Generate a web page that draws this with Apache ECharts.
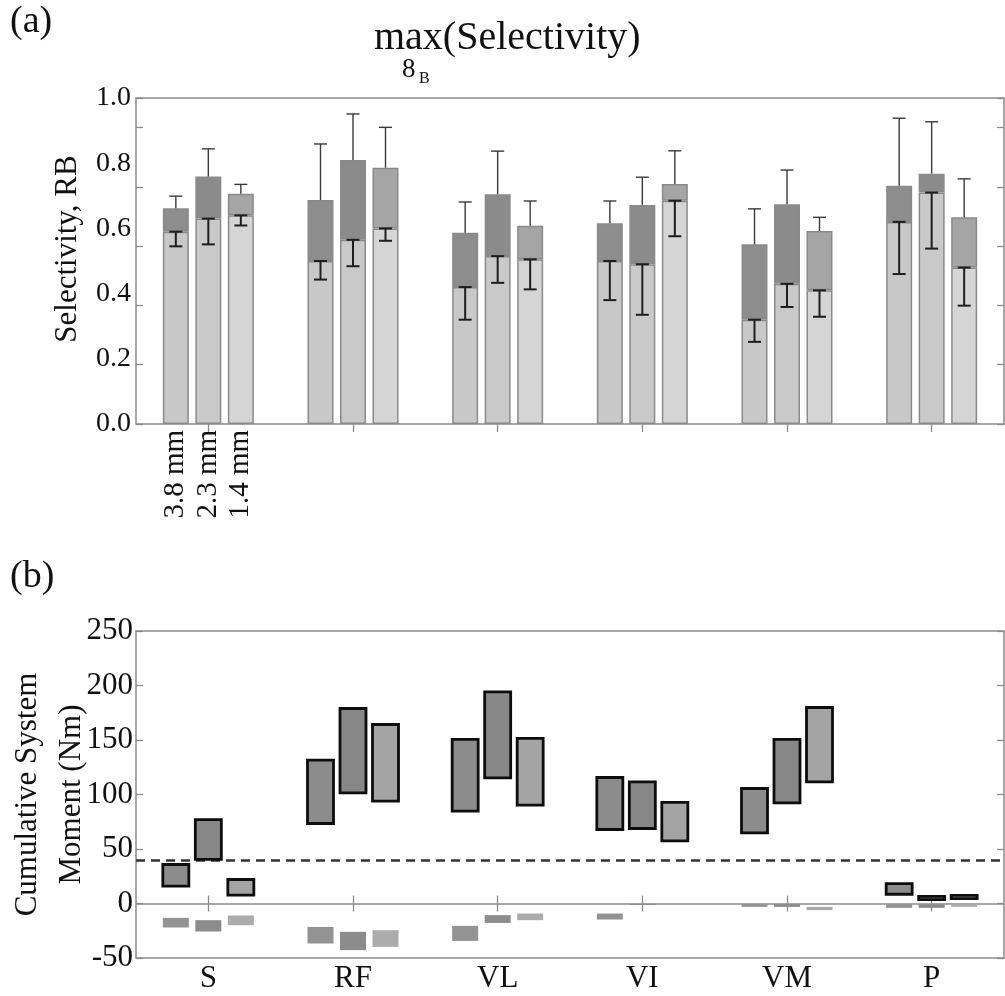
<!DOCTYPE html>
<html>
<head>
<meta charset="utf-8">
<script src="https://cdn.jsdelivr.net/npm/echarts@6/dist/echarts.min.js"></script>
<style>
  html, body { margin: 0; padding: 0; background: #fff; }
  #main { width: 1005px; height: 996px; }
</style>
</head>
<body>
<div id="main"></div>
<script>
// categories
var groups = ['S', 'RF', 'VL', 'VI', 'VM', 'P'];
var sizes = ['3.8 mm', '2.3 mm', '1.4 mm'];

// (a) selectivity: light part (lower) and total height (upper), with their sd
var low38 = [0.59, 0.50, 0.42, 0.50, 0.32, 0.62];
var low23 = [0.63, 0.565, 0.515, 0.49, 0.43, 0.71];
var low14 = [0.64, 0.60, 0.505, 0.685, 0.41, 0.48];
var lowSd38 = [0.045, 0.057, 0.10, 0.12, 0.068, 0.16];
var lowSd23 = [0.079, 0.081, 0.082, 0.155, 0.071, 0.172];
var lowSd14 = [0.031, 0.038, 0.092, 0.109, 0.081, 0.117];
var top38 = [0.662, 0.687, 0.587, 0.616, 0.551, 0.731];
var top23 = [0.759, 0.81, 0.705, 0.672, 0.674, 0.768];
var top14 = [0.706, 0.786, 0.608, 0.736, 0.592, 0.634];
var topSd38 = [0.037, 0.172, 0.094, 0.068, 0.109, 0.207];
var topSd23 = [0.085, 0.141, 0.132, 0.085, 0.105, 0.159];
var topSd14 = [0.029, 0.124, 0.076, 0.102, 0.042, 0.118];

// (b) moment ranges (Nm)
var boxLo38 = [15.9, 73.4, 84.7, 67.9, 64.8, 8.5];
var boxHi38 = [35.8, 131.5, 150.5, 115.6, 105.5, 18.3];
var boxLo23 = [40.4, 101.5, 115.2, 68.8, 92.3, 3.5];
var boxHi23 = [77, 178.9, 194.1, 111.6, 150.5, 6.5];
var boxLo14 = [7.6, 93.9, 90.2, 57.4, 111.6, 4.5];
var boxHi14 = [22, 164.2, 151.4, 92.7, 179.8, 7.5];
var negHi38 = [-13.2, -21.5, -20.5, -9.2, -0.6, -0.6];
var negLo38 = [-22, -36.7, -34.3, -14.7, -3.1, -4];
var negHi23 = [-15.3, -26, -10.7, -0.3, -0.6, -0.6];
var negLo23 = [-25.7, -42.8, -17.8, -1.3, -3.1, -4];
var negHi14 = [-11, -24.5, -9.2, null, -3.1, -0.5];
var negLo14 = [-19.9, -39.8, -15.3, null, -6.1, -3];
var threshold = 40;

var lows = [low38, low23, low14];
var lowSds = [lowSd38, lowSd23, lowSd14];
var tops = [top38, top23, top14];
var topSds = [topSd38, topSd23, topSd14];
var boxLos = [boxLo38, boxLo23, boxLo14];
var boxHis = [boxHi38, boxHi23, boxHi14];
var negLos = [negLo38, negLo23, negLo14];
var negHis = [negHi38, negHi23, negHi14];

var FONT = '"Liberation Serif", "DejaVu Serif", serif';
var BAR_W = 26;
var STEP = 32.5; // bar width + gap
var lowColors = ['#c8c8c8', '#c9c9c9', '#d5d5d5'];
var upColors = ['#8d8d8d', '#8b8b8b', '#a5a5a5'];
var boxColors = ['#8c8c8c', '#878787', '#a4a4a4'];
var negColors = ['#939393', '#8c8c8c', '#ababab'];

var myChart = echarts.init(document.getElementById('main'), null, { renderer: 'canvas' });

var series = [];
// stacked bars for panel (a)
for (var k = 0; k < 3; k++) {
  (function (k) {
    series.push({
      type: 'bar',
      xAxisIndex: 0,
      yAxisIndex: 0,
      stack: 's' + k,
      barWidth: BAR_W,
      barGap: '25%',
      data: lows[k],
      itemStyle: { color: lowColors[k], borderColor: '#8a8a8a', borderWidth: 1.5 },
      label: {
        show: true,
        position: 'bottom',
        rotate: 90,
        align: 'right',
        verticalAlign: 'middle',
        distance: 6,
        fontFamily: FONT,
        fontSize: 29,
        color: '#111',
        formatter: function (p) { return p.dataIndex === 0 ? sizes[k] : ''; }
      },
      silent: true
    });
    series.push({
      type: 'bar',
      xAxisIndex: 0,
      yAxisIndex: 0,
      stack: 's' + k,
      barWidth: BAR_W,
      barGap: '25%',
      data: tops[k].map(function (v, i) { return +(v - lows[k][i]).toFixed(3); }),
      itemStyle: { color: upColors[k], borderColor: '#8a8a8a', borderWidth: 1.5 },
      silent: true
    });
  })(k);
}

// error bars for panel (a)
var errData = [];
for (var k2 = 0; k2 < 3; k2++) {
  for (var i = 0; i < groups.length; i++) {
    errData.push([i, k2, lows[k2][i], lowSds[k2][i], tops[k2][i], topSds[k2][i]]);
  }
}
series.push({
  type: 'custom',
  xAxisIndex: 0,
  yAxisIndex: 0,
  encode: { x: 0, y: [2, 4] },
  z: 5,
  silent: true,
  data: errData,
  renderItem: function (params, api) {
    var cat = api.value(0), k = api.value(1);
    var x = api.coord([cat, 0])[0] + (k - 1) * STEP;
    var lo = api.value(2), loSd = api.value(3), hi = api.value(4), hiSd = api.value(5);
    var y1 = api.coord([cat, lo])[1];
    var y2 = api.coord([cat, lo - loSd])[1];
    var y3 = api.coord([cat, hi])[1];
    var y4 = api.coord([cat, hi + hiSd])[1];
    var cw = 6.5;
    var dark = { stroke: '#1e1e1e', lineWidth: 2 };
    var thin = { stroke: '#3a3a3a', lineWidth: 1.4 };
    return {
      type: 'group',
      children: [
        { type: 'line', shape: { x1: x, y1: y1, x2: x, y2: y2 }, style: dark },
        { type: 'line', shape: { x1: x - cw, y1: y1, x2: x + cw, y2: y1 }, style: dark },
        { type: 'line', shape: { x1: x - cw, y1: y2, x2: x + cw, y2: y2 }, style: dark },
        { type: 'line', shape: { x1: x, y1: y3, x2: x, y2: y4 }, style: thin },
        { type: 'line', shape: { x1: x - cw, y1: y4, x2: x + cw, y2: y4 }, style: thin }
      ]
    };
  }
});

// floating ranges for panel (b)
var boxData = [], negData = [];
for (var k3 = 0; k3 < 3; k3++) {
  for (var j = 0; j < groups.length; j++) {
    boxData.push([j, k3, boxLos[k3][j], boxHis[k3][j]]);
    if (negLos[k3][j] != null) negData.push([j, k3, negLos[k3][j], negHis[k3][j]]);
  }
}
function rangeRect(withBorder, colors) {
  return function (params, api) {
    var cat = api.value(0), k = api.value(1);
    var x = api.coord([cat, 0])[0] + (k - 1) * STEP;
    var yA = api.coord([cat, api.value(3)])[1];
    var yB = api.coord([cat, api.value(2)])[1];
    return {
      type: 'rect',
      shape: { x: x - BAR_W / 2, y: yA, width: BAR_W, height: yB - yA },
      style: withBorder
        ? { fill: colors[k], stroke: '#0d0d0d', lineWidth: 2.8 }
        : { fill: colors[k] }
    };
  };
}
series.push({
  type: 'custom',
  xAxisIndex: 2,
  yAxisIndex: 3,
  encode: { x: 0, y: [2, 3] },
  silent: true,
  data: negData,
  renderItem: rangeRect(false, negColors)
});
series.push({
  type: 'custom',
  xAxisIndex: 2,
  yAxisIndex: 3,
  encode: { x: 0, y: [2, 3] },
  silent: true,
  z: 4,
  data: boxData,
  renderItem: rangeRect(true, boxColors),
  markLine: {
    silent: true,
    symbol: 'none',
    label: { show: false },
    z: 1,
    data: [
      { yAxis: 0, lineStyle: { color: '#8a8a8a', width: 1.6, type: 'solid' } },
      { yAxis: threshold, lineStyle: { color: '#333', width: 2.6, type: [9, 6] } }
    ]
  }
});

function catAxis(grid, pos, showLabel) {
  return {
    type: 'category',
    gridIndex: grid,
    position: pos,
    data: groups,
    boundaryGap: true,
    axisLine: { show: false },
    axisTick: { show: true, inside: true, alignWithLabel: true, length: 8, lineStyle: { color: '#8a8a8a', width: 1.3 } },
    axisLabel: { show: showLabel, fontFamily: FONT, fontSize: 31, color: '#111', margin: 5 },
    splitLine: { show: false }
  };
}
function tickAxis(grid, pos, min, max, interval) {
  return {
    type: 'value',
    gridIndex: grid,
    position: pos,
    min: min,
    max: max,
    interval: interval,
    axisLine: { show: false },
    axisTick: { show: true, inside: true, length: 7, lineStyle: { color: '#8a8a8a', width: 1.3 } },
    axisLabel: { show: false },
    splitLine: { show: false }
  };
}

var plain = { fontFamily: FONT, fontWeight: 'normal', color: '#111' };
myChart.setOption({
  backgroundColor: '#fff',
  animation: false,
  title: [
    { text: '(a)', left: 5, top: -2, textStyle: Object.assign({ fontSize: 38 }, plain) },
    { text: '(b)', left: 5, top: 553, textStyle: Object.assign({ fontSize: 38 }, plain) },
    { text: 'max(Selectivity)', left: 369, top: 13, textStyle: Object.assign({ fontSize: 40 }, plain) },
    { text: '8', left: 397, top: 51, textStyle: Object.assign({ fontSize: 27 }, plain) },
    { text: 'B', left: 414, top: 66, textStyle: Object.assign({ fontSize: 16 }, plain) }
  ],
  grid: [
    { left: 136, top: 98, width: 868, height: 326, show: true, borderColor: '#8a8a8a', borderWidth: 1.5,
      backgroundColor: 'transparent', outerBoundsMode: 'none', containLabel: false },
    { left: 136, top: 631, width: 868, height: 327, show: true, borderColor: '#8a8a8a', borderWidth: 1.5,
      backgroundColor: 'transparent', outerBoundsMode: 'none', containLabel: false }
  ],
  xAxis: [
    catAxis(0, 'bottom', false),
    catAxis(0, 'top', false),
    catAxis(1, 'bottom', true),
    catAxis(1, 'top', false)
  ],
  yAxis: [
    {
      type: 'value',
      gridIndex: 0,
      position: 'left',
      min: 0,
      max: 1,
      interval: 0.2,
      axisLine: { show: false },
      axisTick: { show: false },
      splitLine: { show: false },
      axisLabel: {
        fontFamily: FONT, fontSize: 28, color: '#111', margin: 5,
        formatter: function (v) { return v.toFixed(1); }
      },
      name: 'Selectivity, RB',
      nameLocation: 'middle',
      nameGap: 53,
      nameMoveOverlap: false,
      nameTextStyle: { fontFamily: FONT, fontSize: 31, color: '#111', padding: [0, 0, 0, 24] }
    },
    tickAxis(0, 'left', 0, 5.5, 1),
    tickAxis(0, 'right', 0, 5.5, 1),
    {
      type: 'value',
      gridIndex: 1,
      position: 'left',
      min: -50,
      max: 250,
      interval: 50,
      axisLine: { show: false },
      axisTick: { show: true, inside: true, length: 7, lineStyle: { color: '#8a8a8a', width: 1.3 } },
      splitLine: { show: false },
      axisLabel: { fontFamily: FONT, fontSize: 31, color: '#111', margin: 3 },
      name: 'Cumulative System\nMoment (Nm)',
      nameLocation: 'middle',
      nameGap: 42,
      nameMoveOverlap: false,
      nameTextStyle: { fontFamily: FONT, fontSize: 31, color: '#111', lineHeight: 44 }
    },
    tickAxis(1, 'right', -50, 250, 50)
  ],
  series: series
});
</script>
</body>
</html>
